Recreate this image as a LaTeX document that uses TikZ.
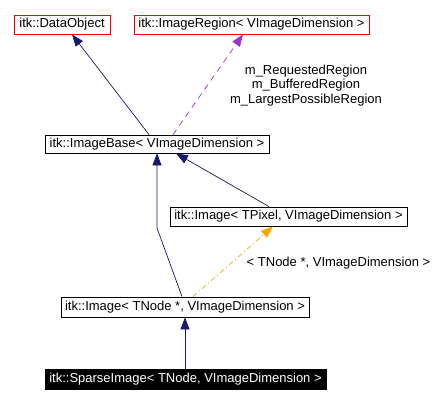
\documentclass[tikz,border=0pt]{standalone}
\usepackage{fontspec}
\setmainfont{Liberation Sans}
\usetikzlibrary{arrows.meta,positioning}
\definecolor{navy}{RGB}{25,25,112}
\definecolor{dorchid}{RGB}{154,50,205}
\definecolor{dorange}{RGB}{255,165,0}

\begin{document}
\begin{tikzpicture}[x=1pt, y=-1pt,
	cls/.style={rectangle, draw, line width=0.8pt, inner sep=0pt, font=\fontsize{13}{14}\selectfont, minimum height=19pt},
	ext/.style={cls, draw=red},
	cur/.style={cls, fill=black, text=white},
	inh/.style={-{Triangle[length=12pt,width=9pt]}, navy, line width=0.7pt},
	usage/.style={-{Triangle[length=12pt,width=9pt]}, dorchid, dash pattern=on 6pt off 5pt, line width=0.7pt},
	tmpl/.style={-{Triangle[length=12pt,width=9pt]}, dorange, dash pattern=on 5pt off 3pt on 1pt off 3pt, line width=0.7pt},
	lbl/.style={font=\fontsize{13}{14.5}\selectfont, align=center, inner sep=0pt}]
	\useasboundingbox (0,0) rectangle (448,403);
	
	\node[ext, minimum width=96pt] (dobj) at (62,24.5) {itk::DataObject};
	\node[ext, minimum width=235pt] (ireg) at (251.5,24.5) {itk::ImageRegion< VImageDimension >};
	\node[cls, minimum width=224pt, minimum height=18pt] (ibase) at (157,144) {itk::ImageBase< VImageDimension >};
	\node[cls, minimum width=237pt] (ipix) at (288.5,216.5) {itk::Image< TPixel, VImageDimension >};
	\node[cls, minimum width=248pt, minimum height=20pt] (inode) at (185,307) {itk::Image< TNode *, VImageDimension >};
	\node[cur, minimum width=281pt, minimum height=20pt] (sparse) at (185.5,379) {itk::SparseImage< TNode, VImageDimension >};
	
	\node[lbl] (regs) at (306,85.5) {m\_RequestedRegion\\m\_BufferedRegion\\m\_LargestPossibleRegion};
	\node[lbl] (targs) at (338.5,263) {< TNode *, VImageDimension >};
	
	\draw[inh] ([xshift=-8pt]ibase.north) -- ([xshift=10pt]dobj.south);
	\draw[usage] ([xshift=16pt]ibase.north) -- ([xshift=-8.5pt]ireg.south);
	\coordinate (bend) at (157,228);
	\draw[inh] ([xshift=-3pt]inode.north) -- (bend) -- (ibase.south);
	\draw[inh] ([xshift=-19.5pt]ipix.north) -- ([xshift=19pt]ibase.south);
	\draw[tmpl] ([xshift=8pt]inode.north) -- ([xshift=-15.5pt]ipix.south);
	\draw[inh] (sparse.north -| inode.south) -- (inode.south);
\end{tikzpicture}
\end{document}
